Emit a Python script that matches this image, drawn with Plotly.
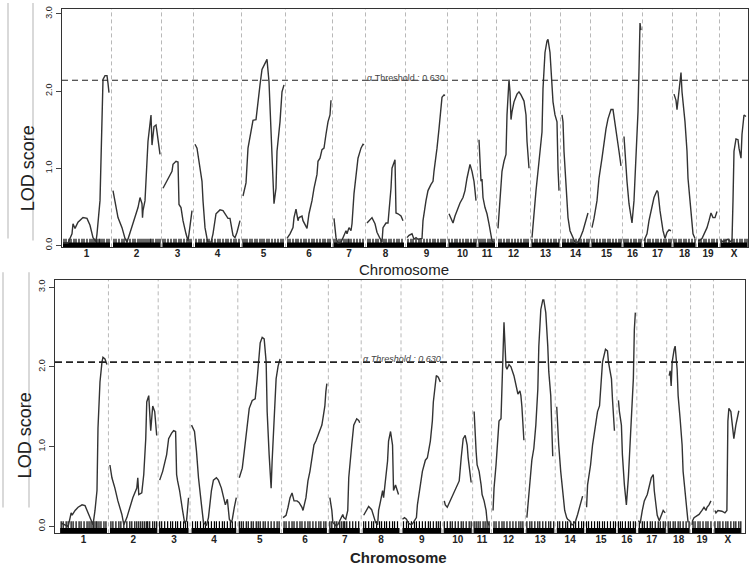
import plotly.graph_objects as go

# chromosome map (lengths in plot units, shared by both scans)
chroms = ["1", "2", "3", "4", "5", "6", "7", "8", "9", "10",
          "11", "12", "13", "14", "15", "16", "17", "18", "19", "X"]
chrom_len = [47, 47, 29, 45, 41, 44, 30, 37, 39, 27, 16, 31, 27, 27, 29, 17, 27, 21, 20, 26]
gap = 3

# LOD thresholds for the two scans
threshold_lod = [2.14, 2.06]
threshold_text = "α Threshold : 0.630"

# top scan: positions within chromosome and LOD
top_pos = [
    [0, 5, 9, 10, 12, 15, 20, 24, 27, 30, 33, 34, 37, 39, 40, 42, 44, 45, 46],
    [0, 2, 5, 9, 12, 14, 15, 19, 22, 25, 27, 29, 29.5, 30, 32, 34, 35, 38, 39, 41, 43, 44, 46, 47],
    [0, 5, 9, 10, 13, 15, 16, 18, 20, 23, 25, 26, 29],
    [0, 2, 5, 7, 8, 10, 12, 13, 16, 18, 21, 22, 25, 28, 30, 33, 35, 37, 38, 40, 42, 45],
    [0, 3, 5, 8, 10, 13, 15, 17, 19, 22, 24, 26, 28, 29, 31, 33, 34, 37, 39, 41],
    [0, 3, 6, 7, 9, 11, 12, 15, 16, 20, 22, 25, 27, 30, 31, 33, 35, 37, 39, 41, 43, 44],
    [0, 2, 4, 7, 9, 12, 13, 15, 17, 18, 20, 22, 24, 27, 29, 30],
    [0, 3, 5, 8, 10, 13, 15, 16, 19, 21, 22, 24, 25, 28, 29, 31, 34, 36],
    [0, 2, 5, 7, 9, 11, 15, 16, 19, 21, 24, 26, 27, 29, 30, 32, 34, 35, 37, 38],
    [0, 2, 4, 6, 9, 11, 14, 16, 18, 20, 21, 23, 25, 26, 27],
    [0, 1, 2, 3, 4, 6, 8, 10, 12, 13, 15],
    [0, 0.5, 2, 4, 6, 8, 9, 11, 12, 13, 14, 16, 19, 21, 23, 25, 26, 28, 29, 31],
    [0, 0.5, 2, 4, 6, 8, 10, 11, 13, 15, 16, 18, 20, 21, 23, 25, 26, 27],
    [0, 1, 2, 4, 6, 8, 11, 13, 15, 18, 21, 23, 26],
    [0, 2, 5, 7, 10, 12, 14, 16, 19, 21, 23, 25, 27, 29],
    [0, 1, 3, 5, 7, 8, 10, 12, 14, 15, 16, 17],
    [0, 3, 5, 8, 10, 13, 14, 16, 18, 19, 21, 23, 25, 27],
    [0, 2, 3, 5, 7, 8, 9, 11, 13, 14, 16, 18, 19, 21],
    [0, 1, 4, 6, 9, 11, 13, 15, 17, 19],
    [0, 2, 4, 7, 9, 11, 12, 13, 15, 17, 18, 20, 21, 23, 25],
]
top_lod = [
    [0.03, 0.03, 0.15, 0.28, 0.22, 0.3, 0.36, 0.35, 0.26, 0.1, 0.05, 0.15, 0.58, 1.43, 2.15, 2.2, 2.2, 2.1, 1.98],
    [0.71, 0.58, 0.36, 0.23, 0.09, 0.04, 0.08, 0.23, 0.35, 0.49, 0.62, 0.54, 0.36, 0.45, 0.58, 1.0, 1.35, 1.69, 1.3, 1.54, 1.56, 1.47, 1.3, 1.18],
    [0.74, 0.87, 0.96, 1.05, 1.09, 1.08, 0.53, 0.49, 0.32, 0.15, 0.06, 0.15, 0.45],
    [1.31, 1.26, 1.0, 0.83, 0.58, 0.23, 0.09, 0.04, 0.04, 0.15, 0.41, 0.42, 0.46, 0.45, 0.41, 0.35, 0.35, 0.23, 0.13, 0.1, 0.17, 0.32],
    [0.64, 0.81, 1.26, 1.51, 1.62, 1.63, 1.82, 2.08, 2.28, 2.36, 2.41, 2.12, 1.51, 1.0, 0.54, 0.74, 1.22, 1.6, 1.99, 2.08],
    [0.09, 0.15, 0.23, 0.36, 0.47, 0.32, 0.36, 0.38, 0.32, 0.22, 0.41, 0.58, 0.74, 0.92, 1.09, 1.13, 1.24, 1.26, 1.44, 1.6, 1.69, 1.88],
    [0.35, 0.1, 0.03, 0.04, 0.1, 0.19, 0.15, 0.23, 0.19, 0.28, 0.67, 0.92, 1.13, 1.26, 1.31, 1.3],
    [0.29, 0.33, 0.36, 0.28, 0.17, 0.09, 0.04, 0.23, 0.29, 0.29, 0.41, 0.74, 1.0, 1.11, 0.42, 0.41, 0.38, 0.32],
    [0.1, 0.13, 0.15, 0.08, 0.1, 0.08, 0.09, 0.32, 0.58, 0.71, 0.79, 0.83, 0.96, 1.13, 1.26, 1.51, 1.77, 1.92, 1.95, 1.94],
    [0.41, 0.35, 0.29, 0.38, 0.49, 0.55, 0.62, 0.71, 0.87, 1.0, 1.05, 0.96, 0.83, 0.71, 0.58],
    [1.37, 1.09, 0.83, 0.86, 0.62, 0.49, 0.41, 0.28, 0.15, 0.06, 0.03],
    [0.22, 0.32, 0.71, 0.96, 1.09, 1.18, 1.69, 2.15, 1.99, 1.63, 1.73, 1.86, 1.96, 1.99, 1.95, 1.88, 1.87, 1.69, 1.35, 1.0],
    [0.1, 0.19, 0.41, 0.71, 0.96, 1.18, 1.47, 2.03, 2.5, 2.65, 2.67, 2.5, 2.15, 1.86, 1.69, 1.6, 1.0, 0.71],
    [1.69, 1.6, 1.22, 0.74, 0.36, 0.19, 0.09, 0.04, 0.03, 0.09, 0.19, 0.29, 0.42],
    [0.23, 0.35, 0.58, 0.87, 1.13, 1.35, 1.51, 1.64, 1.76, 1.76, 1.6, 1.44, 1.22, 1.03],
    [1.41, 1.18, 0.83, 0.54, 0.32, 0.29, 0.58, 1.18, 1.73, 2.28, 2.88, 2.79],
    [0.06, 0.15, 0.32, 0.49, 0.62, 0.71, 0.69, 0.45, 0.28, 0.19, 0.09, 0.17, 0.2, 0.19],
    [1.96, 1.88, 1.76, 1.99, 2.24, 1.99, 1.86, 1.6, 1.22, 0.87, 0.58, 0.32, 0.15, 0.09],
    [0.06, 0.06, 0.09, 0.15, 0.23, 0.32, 0.42, 0.36, 0.36, 0.44],
    [0.06, 0.05, 0.06, 0.08, 0.05, 0.06, 0.58, 1.22, 1.38, 1.37, 1.26, 1.13, 1.44, 1.69, 1.67],
]

# bottom scan
bot_pos = [
    [1, 5, 8, 10, 11, 12, 15, 18, 22, 25, 27, 30, 33, 35, 37, 38, 40, 42, 43, 45, 47],
    [0, 2, 5, 8, 12, 14, 17, 20, 23, 27, 28, 29, 32, 34, 36, 37, 39, 41, 42, 43, 45, 47],
    [0, 3, 7, 9, 12, 14, 16, 17, 18, 20, 23, 25, 27, 28, 29],
    [0, 3, 5, 7, 10, 12, 15, 17, 20, 22, 25, 27, 30, 32, 34, 36, 38, 40, 41, 43, 45],
    [0, 3, 5, 8, 10, 13, 16, 18, 19, 21, 23, 25, 27, 28, 30, 32, 33, 35, 37, 39, 41],
    [0, 3, 5, 7, 9, 11, 14, 16, 19, 20, 23, 25, 27, 29, 31, 33, 35, 37, 39, 40.5, 42, 43, 44],
    [0, 2, 3, 6, 8, 11, 13, 14, 16, 18, 19, 22, 24, 27, 29, 30],
    [1, 4, 6, 9, 11, 13, 15, 16, 18, 20, 21, 23, 25, 26, 28, 30, 31, 33, 34, 36],
    [0, 2, 4, 6, 9, 11, 14, 15, 18, 20, 23, 25, 28, 30, 31, 33, 34, 36, 38],
    [0, 1, 3, 6, 8, 11, 13, 15, 17, 19, 21, 23, 24, 26, 27],
    [0, 0.5, 2, 3, 5, 7, 8, 10, 12, 13, 15],
    [0, 1, 3, 5, 6, 8, 9, 11, 13, 14, 16, 18, 21, 23, 25, 27, 28, 29, 30, 31],
    [0, 1, 3, 5, 7, 9, 11, 12, 14, 16, 17, 19, 21, 22, 24, 25, 26],
    [0, 0.5, 2, 4, 6, 8, 10, 11, 13, 15, 16, 19, 21, 24, 26],
    [0, 1, 4, 6, 9, 11, 13, 15, 16, 19, 21, 22, 25, 26, 28],
    [0, 1, 3, 4, 6, 8, 10, 11, 13, 15, 16, 17],
    [0, 2, 4, 6, 9, 11, 13, 15, 16, 18, 19, 21, 23, 25, 27],
    [1, 2, 3, 4, 6, 7, 9, 10, 12, 14, 15, 17, 19, 20],
    [0, 0.5, 2, 5, 7, 10, 12, 14, 15, 17, 19],
    [0, 1, 3, 7, 10, 12, 13, 14, 16, 18, 19, 21, 23, 24],
]
bot_lod = [
    [0.04, 0.02, 0.0, 0.11, 0.17, 0.14, 0.2, 0.24, 0.27, 0.26, 0.2, 0.09, 0.02, 0.2, 0.45, 1.23, 1.81, 2.06, 2.12, 2.1, 2.03],
    [0.77, 0.61, 0.48, 0.32, 0.15, 0.02, 0.11, 0.24, 0.36, 0.48, 0.61, 0.4, 0.42, 0.65, 1.1, 1.56, 1.64, 1.2, 1.44, 1.51, 1.44, 1.14],
    [0.58, 0.69, 0.9, 1.1, 1.17, 1.2, 1.19, 0.65, 0.57, 0.45, 0.2, 0.05, 0.07, 0.27, 0.36],
    [1.27, 1.19, 0.94, 0.61, 0.27, 0.05, 0.01, 0.11, 0.45, 0.58, 0.61, 0.58, 0.48, 0.36, 0.27, 0.34, 0.09, 0.05, 0.09, 0.24, 0.36],
    [0.61, 0.73, 0.94, 1.27, 1.48, 1.58, 1.6, 1.85, 2.0, 2.3, 2.37, 2.35, 2.06, 1.44, 0.9, 0.48, 0.82, 1.35, 1.85, 2.01, 2.1],
    [0.11, 0.14, 0.24, 0.36, 0.42, 0.32, 0.32, 0.3, 0.24, 0.2, 0.36, 0.57, 0.69, 0.86, 1.02, 1.07, 1.14, 1.19, 1.27, 1.39, 1.51, 1.69, 1.79],
    [0.36, 0.2, 0.05, 0.01, 0.02, 0.09, 0.15, 0.11, 0.09, 0.2, 0.61, 1.02, 1.27, 1.35, 1.33, 1.3],
    [0.14, 0.2, 0.25, 0.21, 0.14, 0.05, 0.02, 0.2, 0.32, 0.45, 0.36, 0.61, 0.82, 1.07, 1.19, 1.02, 0.45, 0.52, 0.48, 0.4],
    [0.09, 0.11, 0.09, 0.04, 0.02, 0.05, 0.11, 0.27, 0.52, 0.69, 0.83, 0.86, 1.07, 1.32, 1.56, 1.76, 1.89, 1.87, 1.81],
    [0.32, 0.27, 0.24, 0.32, 0.38, 0.45, 0.51, 0.57, 0.86, 1.1, 1.14, 1.02, 0.86, 0.69, 0.55],
    [1.44, 1.27, 0.94, 0.77, 0.69, 0.52, 0.4, 0.32, 0.2, 0.07, 0.01],
    [0.2, 0.48, 0.77, 1.07, 1.32, 1.35, 1.89, 2.56, 2.0, 1.97, 2.03, 2.0, 1.89, 1.76, 1.66, 1.7, 1.64, 1.5, 1.27, 1.08],
    [0.11, 0.27, 0.61, 0.83, 0.98, 1.27, 1.72, 2.26, 2.72, 2.84, 2.84, 2.68, 2.26, 1.94, 1.64, 1.35, 0.88],
    [1.5, 1.35, 1.02, 0.69, 0.4, 0.2, 0.11, 0.09, 0.07, 0.02, 0.02, 0.07, 0.15, 0.27, 0.38],
    [0.24, 0.52, 0.77, 1.02, 1.27, 1.44, 1.51, 1.85, 2.06, 2.22, 2.2, 2.06, 1.85, 1.6, 1.2],
    [1.58, 1.44, 1.27, 0.9, 0.52, 0.27, 0.61, 0.9, 1.35, 1.85, 2.47, 2.68],
    [0.07, 0.05, 0.2, 0.32, 0.4, 0.52, 0.61, 0.65, 0.45, 0.24, 0.14, 0.07, 0.15, 0.2, 0.17],
    [1.89, 1.95, 1.76, 2.06, 2.22, 2.26, 1.97, 1.64, 1.35, 1.02, 0.69, 0.4, 0.2, 0.05],
    [0.02, 0.07, 0.11, 0.14, 0.15, 0.2, 0.24, 0.2, 0.24, 0.27, 0.32],
    [0.2, 0.17, 0.2, 0.19, 0.17, 0.2, 1.32, 1.48, 1.44, 1.23, 1.1, 1.27, 1.41, 1.45],
]

# genetic markers (rug), positions within chromosome
marker_pos = [
    [1, 3, 6, 8, 11, 13, 16, 19, 21, 24, 27, 29, 31, 33, 34, 36, 37, 39, 41, 44, 46],
    [1, 3, 6, 9, 11, 14, 17, 20, 22, 25, 27, 29, 31, 33, 35, 37, 38, 40, 43, 45, 47],
    [0, 2, 5, 8, 11, 13, 16, 18, 21, 24, 26, 28],
    [1, 4, 6, 9, 12, 14, 17, 20, 23, 25, 28, 31, 33, 36, 39, 41, 44],
    [0, 2, 4, 7, 9, 12, 14, 17, 19, 21, 24, 26, 29, 32, 35, 38, 40],
    [1, 3, 6, 9, 11, 14, 17, 19, 22, 25, 27, 30, 33, 36, 38, 41, 43],
    [0, 2, 5, 7, 10, 12, 14, 15, 17, 20, 23, 26, 29],
    [1, 3, 6, 9, 11, 14, 17, 19, 22, 24, 27, 30, 32, 35],
    [1, 4, 6, 9, 12, 14, 17, 20, 23, 26, 28, 31, 34, 36, 38],
    [0, 3, 6, 8, 11, 14, 17, 19, 22, 25, 27],
    [0, 2, 4, 6, 9, 11, 13, 15],
    [1, 3, 6, 9, 11, 14, 17, 20, 23, 26, 28, 30],
    [0, 3, 5, 8, 11, 13, 16, 19, 22, 24, 27],
    [1, 3, 6, 9, 11, 14, 17, 19, 22, 25, 27],
    [0, 2, 5, 8, 11, 13, 16, 18, 21, 24, 27, 29],
    [0, 2, 4, 7, 10, 12, 15, 17],
    [1, 4, 6, 9, 12, 14, 17, 20, 22, 25, 27],
    [0, 2, 5, 7, 10, 12, 15, 18, 21],
    [1, 3, 6, 8, 11, 14, 16, 19],
    [0, 3, 5, 8, 11, 13, 16, 19, 21, 24, 26],
]

W, H = 751, 568
FONT = "Liberation Sans, Arial, sans-serif"

starts = []
s = 0
for L in chrom_len:
    starts.append(s)
    s += L + gap
mids = [starts[i] + chrom_len[i] / 2 for i in range(len(chroms))]


def genome_xy(pos, lod):
    xs, ys = [], []
    for i in range(len(chroms)):
        xs += [starts[i] + p for p in pos[i]] + [None]
        ys += list(lod[i]) + [None]
    return xs, ys


def px(x):
    return x / W


def py(y):
    return 1 - y / H


fig = go.Figure()

panels = [
    # xaxis, yaxis, pos, lod, rug y, rug tick size, threshold style
    ("x", "y", top_pos, top_lod, 0.005, 9, dict(width=1.1, dash="6px,4px")),
    ("x2", "y2", bot_pos, bot_lod, -0.05, 13, dict(width=1.6, dash="7px,4px")),
]

for k, (xa, ya, pos, lod, rug_y, rug_size, thr_style) in enumerate(panels):
    # rug band under each chromosome
    bx, by = [], []
    for i in range(len(chroms)):
        bx += [starts[i], starts[i] + chrom_len[i], None]
        by += [rug_y, rug_y, None]
    fig.add_trace(go.Scatter(x=bx, y=by, mode="lines", xaxis=xa, yaxis=ya,
                             line=dict(color="black", width=5), hoverinfo="skip"))
    mx = []
    for i in range(len(chroms)):
        mx += [starts[i] + p for p in marker_pos[i]]
    fig.add_trace(go.Scatter(x=mx, y=[rug_y] * len(mx), mode="markers", xaxis=xa, yaxis=ya,
                             marker=dict(symbol="line-ns", size=rug_size,
                                         line=dict(color="black", width=1.2)),
                             hoverinfo="skip"))
    xs, ys = genome_xy(pos, lod)
    fig.add_trace(go.Scatter(x=xs, y=ys, mode="lines", xaxis=xa, yaxis=ya,
                             line=dict(color="#333333", width=1.4), connectgaps=False))

    # chromosome boundaries
    for i in range(1, len(chroms)):
        fig.add_shape(type="line", xref=xa, yref=ya + " domain",
                      x0=starts[i] - gap / 2, x1=starts[i] - gap / 2, y0=0, y1=1,
                      line=dict(color="#b8b8b8", width=1, dash="4px,3px"), layer="below")
    # threshold
    fig.add_shape(type="line", xref=xa + " domain", yref=ya, x0=0, x1=1,
                  y0=threshold_lod[k], y1=threshold_lod[k],
                  line=dict(color="#222222", **thr_style))

axis_common = dict(showgrid=False, zeroline=False, showline=True, mirror=True,
                   linecolor="#333333", linewidth=1)
xtick_font = dict(size=10, color="#222222", family=FONT)

fig.update_layout(
    width=W, height=H,
    margin=dict(l=0, r=0, t=0, b=0),
    paper_bgcolor="white", plot_bgcolor="white",
    showlegend=False,
    font=dict(family=FONT, color="#222222"),
    xaxis=dict(domain=[px(62), px(748)], range=[-1, 685], tickvals=mids,
               ticktext=["<b>" + c + "</b>" for c in chroms],
               ticks="", ticklen=0, ticklabelstandoff=-3, tickfont=xtick_font, **axis_common),
    yaxis=dict(domain=[py(247), py(6)], range=[-0.026, 3.064], tickvals=[0, 1, 2, 3],
               ticktext=["0.0", "1.0", "2.0", "3.0"], tickangle=-90, ticks="outside",
               ticklen=5, tickfont=dict(size=9), **axis_common),
    xaxis2=dict(domain=[px(55), px(745)], range=[-5.2, 688.2], tickvals=mids,
                ticktext=["<b>" + c + "</b>" for c in chroms],
                ticks="", ticklen=0, ticklabelstandoff=-3, tickfont=xtick_font, anchor="y2",
                **axis_common),
    yaxis2=dict(domain=[py(536), py(280)], range=[-0.087, 3.089], tickvals=[0, 1, 2, 3],
                ticktext=["0.0", "1.0", "2.0", "3.0"], tickangle=-90, ticks="outside",
                ticklen=5, tickfont=dict(size=9), anchor="x2", **axis_common),
)

annotations = [
    dict(x=px(28), y=py(167), text="LOD score", textangle=-90, font=dict(size=18)),
    dict(x=px(25), y=py(437), text="LOD score", textangle=-90, font=dict(size=18)),
    dict(x=px(404), y=py(269), text="Chromosome", font=dict(size=15)),
    dict(x=px(399), y=py(560), text="<b>Chromosome</b>", font=dict(size=15)),
    dict(x=px(406), y=py(76), text=threshold_text, font=dict(size=9, color="#444444")),
    dict(x=px(402), y=py(360), text="<i>" + threshold_text + "</i>", font=dict(size=9, color="#444444")),
]
for a in annotations:
    a.update(xref="paper", yref="paper", showarrow=False, xanchor="center", yanchor="middle")
fig.update_layout(annotations=annotations)

# light grey rules in the left margin
for x, y0, y1 in [(8, 0, 238), (33, 0, 240), (3, 272, 510), (29, 272, 510)]:
    fig.add_shape(type="line", xref="paper", yref="paper", x0=px(x), x1=px(x),
                  y0=py(y0), y1=py(y1), line=dict(color="#cccccc", width=1.5))

# page body has a default margin; drop it so the figure sits at the window corner
fig.write_html("out.html", config={"displayModeBar": False},
               post_script="document.body.style.margin='0';")
